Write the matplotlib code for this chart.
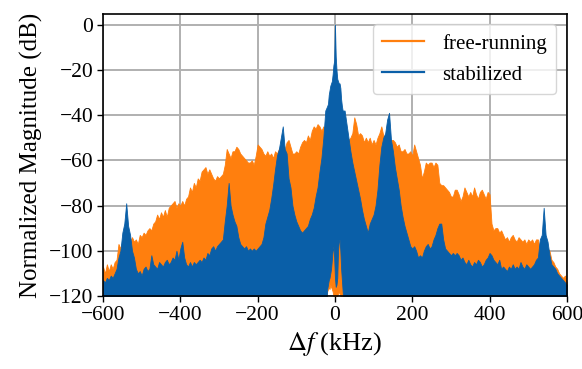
import numpy as np
import matplotlib
matplotlib.use("Agg")
import matplotlib.pyplot as plt

plt.rcParams['font.family'] = ['Liberation Serif', 'DejaVu Serif']
plt.rcParams['mathtext.fontset'] = 'stix'

# frequency grids (kHz)
f_left = np.arange(-600, -24, 5)
f_center = np.arange(-20, 21, 2)
f_right = np.arange(25, 601, 5)

# free-running upper envelope (dB), left side -600..-25
free_left = [-107, -110, -106, -109, -106, -108, -105, -104, -97, -99,
             -96, -97, -98, -95, -96, -94, -96, -95, -97, -93,
             -94, -92, -93, -91, -90, -91, -88, -87, -84, -86,
             -83, -85, -82, -85, -81, -80, -79, -78, -81, -79,
             -80, -78, -80, -77, -76, -72, -74, -70, -72, -68,
             -69, -65, -64, -63, -66, -64, -66, -68, -69, -67,
             -68, -67, -66, -62, -55, -57, -59, -56, -56, -54,
             -55, -57, -58, -59, -60, -61, -61, -60, -62, -58,
             -53, -54, -55, -57, -58, -56, -58, -57, -59, -56,
             -57, -55, -54, -56, -55, -52, -51, -54, -57, -57,
             -56, -57, -54, -52, -51, -52, -49, -51, -47, -45,
             -46, -44, -45, -47, -45, -46]
stab_left = [-113, -114, -112, -113, -111, -112, -110, -108, -103, -100,
             -92, -88, -79, -89, -93, -100, -103, -108, -110, -109,
             -111, -108, -107, -109, -108, -102, -106, -107, -108, -105,
             -106, -107, -105, -104, -106, -105, -103, -104, -100, -104,
             -99, -96, -103, -106, -107, -105, -107, -105, -106, -105,
             -104, -105, -103, -104, -101, -102, -99, -98, -100, -98,
             -97, -96, -95, -87, -80, -70, -80, -84, -87, -89,
             -94, -97, -98, -99, -98, -100, -99, -100, -99, -100,
             -99, -98, -97, -94, -88, -85, -82, -77, -71, -64,
             -58, -55, -50, -45, -55, -57, -68, -72, -80, -84,
             -87, -89, -91, -92, -91, -90, -89, -86, -84, -81,
             -76, -72, -65, -59, -50, -38]

# center region -20..20 (step 2)
free_center = [-45] * 21
stab_center = [-36, -35, -31, -29, -27, -26, -25, -22, -18, -16,
               0, -14, -20, -24, -25, -26, -26, -28, -33, -36, -38]
stab_center_low = [-117, -115, -113, -112, -110, -108, -104, -100, -98, -103,
                   -112, -116, -115, -112, -100, -96, -95, -100, -108, -113, -118]
free_center_low = [-118, -117, -116, -117, -115, -116, -117, -118, -120, -121,
                   -122, -122, -121, -120, -119, -118, -119, -120, -121, -121, -122]

# right side 25..600
free_right = [-47, -50, -51, -50, -48, -41, -44, -49, -48, -49,
              -52, -50, -52, -50, -53, -51, -53, -50, -48, -45,
              -49, -50, -52, -52, -51, -51, -52, -54, -53, -56,
              -56, -55, -57, -57, -56, -58, -53, -56, -59, -62,
              -68, -65, -61, -62, -61, -61, -63, -61, -62, -70,
              -71, -71, -72, -73, -74, -76, -76, -73, -73, -75,
              -78, -76, -72, -74, -76, -74, -76, -72, -75, -77,
              -74, -73, -75, -77, -74, -75, -88, -91, -90, -90,
              -92, -91, -93, -95, -94, -96, -94, -93, -95, -96,
              -94, -95, -96, -95, -97, -95, -96, -95, -97, -95,
              -95, -99, -97, -96, -98, -99, -100, -104, -105, -107,
              -108, -110, -111, -112, -111, -114]
stab_right = [-38, -44, -50, -56, -61, -65, -69, -73, -77, -82,
              -86, -89, -92, -88, -86, -84, -80, -73, -62, -54,
              -50, -48, -42, -39, -51, -56, -63, -68, -73, -80,
              -85, -89, -92, -95, -98, -99, -98, -100, -103, -102,
              -103, -100, -98, -97, -99, -98, -95, -93, -90, -88,
              -88, -95, -99, -100, -101, -102, -101, -102, -101, -102,
              -104, -103, -105, -106, -104, -106, -107, -105, -106, -104,
              -105, -107, -106, -104, -103, -101, -102, -104, -105, -106,
              -104, -108, -107, -108, -109, -107, -108, -106, -108, -107,
              -108, -105, -107, -108, -106, -107, -108, -107, -106, -104,
              -103, -95, -93, -81, -93, -96, -102, -106, -107, -108,
              -110, -111, -112, -113, -114, -115]

xticks = [-600, -400, -200, 0, 200, 400, 600]
yticks = [-120, -100, -80, -60, -40, -20, 0]

freq = np.concatenate([f_left, f_center, f_right])
free_up = np.array(free_left + free_center + free_right, dtype=float)
stab_up = np.array(stab_left + stab_center + stab_right, dtype=float)
floor_l = [-130] * len(f_left)
floor_r = [-130] * len(f_right)
free_low = np.array(floor_l + free_center_low + floor_r, dtype=float)
stab_low = np.array(floor_l + stab_center_low + floor_r, dtype=float)

c_free = '#ff7f0e'
c_stab = '#0a5fa8'

fig = plt.figure(figsize=(5.82, 3.69), dpi=100)
ax = fig.add_axes([0.177, 0.198, 0.797, 0.764])
ax.set_axisbelow(True)
ax.grid(True, color='#b0b0b0', linewidth=1.4)

ax.fill_between(freq, free_low, free_up, color=c_free, linewidth=0.6, edgecolor=c_free)
ax.fill_between(freq, stab_low, stab_up, color=c_stab, linewidth=0.6, edgecolor=c_stab)
ax.plot([], [], color=c_free, lw=1.6, label='free-running')
ax.plot([], [], color=c_stab, lw=1.6, label='stabilized')

ax.set_xlim(-600, 600)
ax.set_ylim(-120, 4.7)
ax.set_xticks(xticks)
ax.set_yticks(yticks)
ax.set_xticklabels([f"\u2212{abs(v)}" if v < 0 else str(v) for v in xticks])
ax.set_yticklabels([f"\u2212{abs(v)}" if v < 0 else str(v) for v in yticks])
ax.tick_params(labelsize=15.5, length=4, width=1, pad=3)
for s in ax.spines.values():
    s.set_linewidth(1.2)
ax.set_xlabel(r'$\Delta f$ (kHz)', fontsize=19, labelpad=4)
ax.set_ylabel('Normalized Magnitude (dB)', fontsize=18, labelpad=4)
leg = ax.legend(loc='upper right', fontsize=15, framealpha=0.8, edgecolor='#cccccc',
                borderaxespad=0.5, borderpad=0.45, handlelength=2.0,
                handletextpad=0.9, labelspacing=0.55)

fig.savefig('out.png', dpi=100)
